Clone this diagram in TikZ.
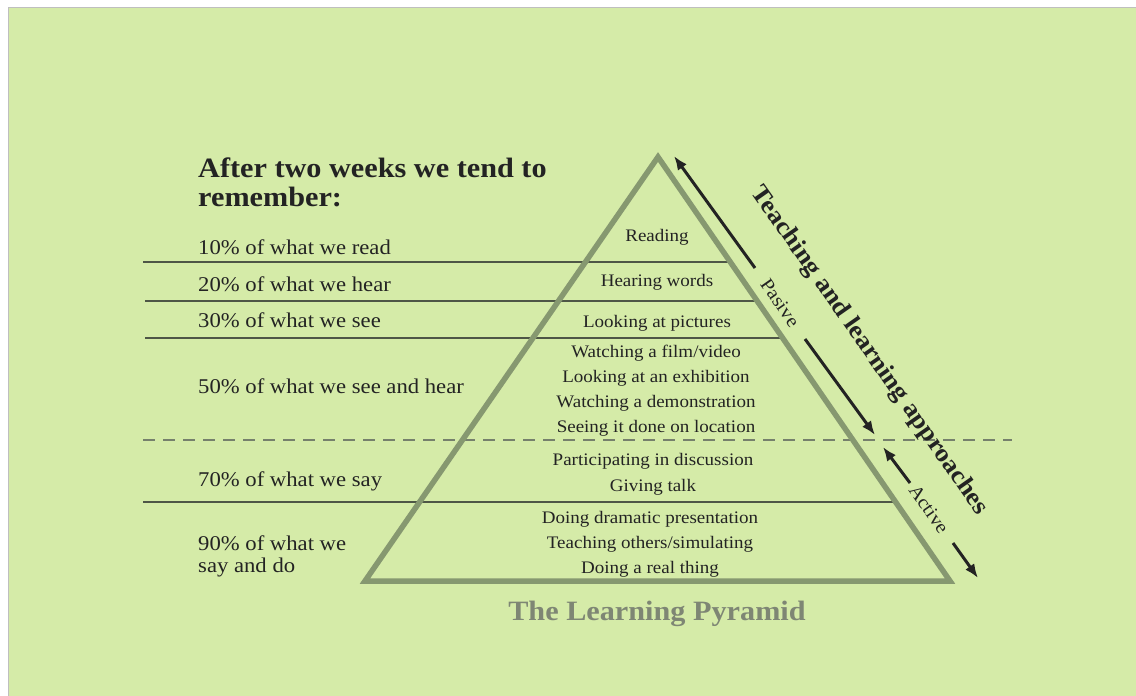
\documentclass[tikz,border=0pt]{standalone}
\usepackage{fontspec}
\setmainfont{Liberation Serif}[FakeStretch=1.08]
\usetikzlibrary{arrows.meta}
\definecolor{bggreen}{RGB}{213,235,168}
\definecolor{pyrgreen}{RGB}{134,152,112}
\definecolor{rulegray}{RGB}{78,86,70}
\definecolor{dashgray}{RGB}{118,128,108}
\definecolor{titlegray}{RGB}{126,134,116}
\definecolor{inkdark}{RGB}{35,35,35}

\begin{document}
\begin{tikzpicture}[x=1pt, y=-1pt, node distance=25pt,
	head/.style={inner sep=0pt, text=inkdark, font=\bfseries\fontsize{28}{28}\selectfont},
	lbl/.style={inner sep=0pt, text=inkdark, font=\fontsize{21}{21}\selectfont},
	pyr/.style={inner sep=0pt, text=inkdark, font=\fontsize{17.6}{17.6}\selectfont, text height=12pt, text depth=4pt},
	side/.style={inner sep=0pt, text=inkdark, rotate=-55},
	rule/.style={draw=rulegray, line width=2pt},
	flow/.style={draw=inkdark, line width=3pt, -{Latex[length=14pt,width=11pt]}}]
	\useasboundingbox (0,0) rectangle (1136,696);
	\fill[white] (0,0) rectangle (1136,696);
	\filldraw[fill=bggreen, draw=black!25, line width=1pt] (8,7) rectangle (1140,700);

	\coordinate (top) at (658,157);
	\coordinate (bl) at (365,581);
	\coordinate (br) at (950,581);
	\coordinate (a1) at (143,262); \coordinate (b1) at (730,262);
	\coordinate (a2) at (145,301); \coordinate (b2) at (757,301);
	\coordinate (a3) at (145,338); \coordinate (b3) at (783,338);
	\coordinate (a4) at (143,440); \coordinate (b4) at (1012,440);
	\coordinate (a5) at (143,502); \coordinate (b5) at (896,502);

	\path[every edge/.style={rule}]
		(a1) edge (b1)
		(a2) edge (b2)
		(a3) edge (b3)
		(a5) edge (b5)
	;
	\draw[draw=dashgray, line width=2.5pt, dash pattern=on 12pt off 8pt] (a4) -- (b4);
	\draw[draw=pyrgreen, line width=5.5pt] (top) -- (br) -- (bl) -- cycle;

	\node[head, anchor=base west] (after) at (198,177) {After two weeks we tend to};
	\node[head, anchor=base west] (remember) at (198,206) {remember:};

	\node[lbl, anchor=base west] (read) at (198,254) {10\% of what we read};
	\node[lbl, anchor=base west] (hear) at (198,291) {20\% of what we hear};
	\node[lbl, anchor=base west] (see) at (198,327) {30\% of what we see};
	\node[lbl, anchor=base west] (seehear) at (198,393) {50\% of what we see and hear};
	\node[lbl, anchor=base west] (say) at (198,486) {70\% of what we say};
	\node[lbl, anchor=base west] (ninety) at (198,550) {90\% of what we};
	\node[lbl, anchor=base west] (sayado) at (198,572) {say and do};

	\node[pyr, anchor=base] (reading) at (657,241) {Reading};
	\node[pyr, anchor=base] (words) at (657,286) {Hearing words};
	\node[pyr, anchor=base] (pictures) at (657,327) {Looking at pictures};
	\node[pyr, anchor=base] (film) at (656,357) {Watching a film/video};
	\node[pyr] (exhibition)[below of = film] {Looking at an exhibition};
	\node[pyr] (demo)[below of = exhibition] {Watching a demonstration};
	\node[pyr] (location)[below of = demo] {Seeing it done on location};
	\node[pyr, anchor=base] (discussion) at (653,465) {Participating in discussion};
	\node[pyr] (talk)[below of = discussion, node distance=26pt] {Giving talk};
	\node[pyr, anchor=base] (drama) at (650,523) {Doing dramatic presentation};
	\node[pyr] (teach)[below of = drama] {Teaching others/simulating};
	\node[pyr] (real)[below of = teach] {Doing a real thing};

	\node[anchor=base, inner sep=0pt, text=titlegray, font=\bfseries\fontsize{28}{28}\selectfont] (name) at (657,620) {The Learning Pyramid};

	\node[side, font=\bfseries\fontsize{25}{25}\selectfont] (approach) at (869,351) {Teaching and learning approaches};
	\node[side, font=\fontsize{19}{19}\selectfont] (pasive) at (780,303) {Pasive};
	\node[side, font=\fontsize{19}{19}\selectfont] (active) at (929,509) {Active};

	\coordinate (p1) at (755,268); \coordinate (p2) at (674,156);
	\coordinate (p3) at (805,339); \coordinate (p4) at (875,435);
	\coordinate (q1) at (910,483); \coordinate (q2) at (883,447);
	\coordinate (q3) at (953,543); \coordinate (q4) at (978,578);
	\path[every edge/.style={flow}]
		(p1) edge (p2)
		(p3) edge (p4)
		(q1) edge (q2)
		(q3) edge (q4)
	;
\end{tikzpicture}
\end{document}
